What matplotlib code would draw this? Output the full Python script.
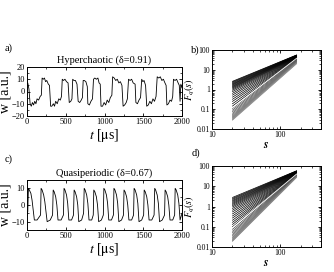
import numpy as np
import matplotlib
matplotlib.use("Agg")
import matplotlib.pyplot as plt
from matplotlib.ticker import MultipleLocator, LogLocator, NullFormatter, FixedLocator, FixedFormatter

plt.rcParams['font.family'] = ['Liberation Serif', 'DejaVu Serif']
plt.rcParams['mathtext.fontset'] = 'stix'

# ---- panel a: hyperchaotic time series (t in us, w in a.u.)
t_a = [0, 10, 25, 40, 55, 70, 85, 100, 115, 130, 150, 170, 185, 195, 210, 225, 240, 255, 275, 290,
       305, 320, 340, 355, 370, 390, 410, 430, 445, 455, 470, 490, 510, 530, 545, 565, 580, 590,
       605, 625, 645, 660, 680, 700, 715, 725, 740, 760, 778, 785, 805, 825, 845, 858, 875, 895,
       915, 930, 945, 955, 975, 995, 1015, 1035, 1055, 1075, 1095, 1105, 1125, 1145, 1165, 1185,
       1205, 1225, 1240, 1260, 1280, 1295, 1310, 1330, 1350, 1370, 1395, 1405, 1425, 1445, 1465,
       1480, 1495, 1510, 1530, 1545, 1565, 1585, 1605, 1625, 1645, 1665, 1680, 1700, 1720, 1740,
       1760, 1780, 1795, 1805, 1825, 1845, 1865, 1880, 1890, 1910, 1930, 1950, 1965, 1975, 1985, 2000]
w_a = [6, 7, 2, -10, -12, -9, -11, -8, -10, -6, -7, -4, -3, 11, 10, 11, 8, 9, 6, 5,
       -12, -12, -10, -12, -8, -10, -6, -7, -4, 10, 9, 10, 8, 7, -9, -8, -6, 10,
       9, 9, 6, -8, -9, -7, -5, 9, 9, 8, 4, -10, -11, -8, -6, 10, 11, 10,
       11, 7, 6, -12, -12, -9, -11, -7, -9, -5, -3, 12, 11, 9, 10, 7,
       8, 5, -12, -11, -9, -6, 10, 9, 10, 7, 6, -9, -10, -7, -5,
       10, 8, 9, 5, -12, -11, -8, -10, -6, -8, -4, 12, 11, 12, 9,
       10, 7, 5, -11, -10, -7, -8, -4, 10, 9, 10, 7, 5, -8, 6, 3]

# ---- panel c: quasiperiodic time series
t_c = [0, 10, 18, 30, 50, 65, 80, 95, 130, 160, 175, 182, 195, 215, 230, 245, 260, 300, 330,
       338, 350, 370, 385, 400, 440, 470, 478, 490, 510, 525, 540, 575, 600, 608, 620, 640,
       655, 668, 705, 730, 738, 750, 770, 785, 800, 835, 855, 862, 875, 895, 910, 925, 960,
       985, 992, 1005, 1025, 1040, 1055, 1090, 1115, 1122, 1135, 1155, 1170, 1185, 1220, 1245,
       1252, 1265, 1285, 1300, 1315, 1350, 1375, 1382, 1395, 1415, 1430, 1445, 1480, 1505,
       1512, 1525, 1545, 1560, 1575, 1610, 1640, 1648, 1660, 1680, 1695, 1710, 1745, 1775,
       1782, 1795, 1815, 1830, 1845, 1880, 1905, 1912, 1925, 1945, 1960, 1975, 2000]
w_c = [-6, -4, 10, 9, 7, 3, -3, -9, -9, -7, -6, 10, 9, 6, 2, -4, -10, -9, -6,
       9, 8, 5, 0, -9, -9, -6, 10, 9, 6, 1, -9, -9, -6, 9, 8, 5,
       0, -10, -9, -5, 10, 9, 6, 1, -9, -9, -6, 9, 8, 5, 0, -10, -9,
       -6, 10, 9, 6, 1, -9, -9, -6, 10, 9, 6, 1, -10, -9, -6,
       9, 8, 5, 0, -9, -9, -6, 10, 9, 6, 1, -10, -9, -6,
       9, 8, 5, 0, -9, -9, -6, 10, 9, 6, 1, -10, -9, -6,
       9, 8, 5, 0, -9, -9, -6, 10, 9, 6, 1, -9, -5]

# ---- panels b, d: fluctuation functions F_q(s), one straight segment per q
s_range = [20, 175]
b_start = [2.6, 2.4, 2.2, 2.0, 1.85, 1.7, 1.55, 1.42, 1.3, 1.18, 1.05, 0.92, 0.78, 0.64,
           0.52, 0.41, 0.32, 0.25, 0.19, 0.145,
           0.11, 0.09, 0.075, 0.063, 0.054, 0.047, 0.042, 0.038, 0.035, 0.032, 0.030, 0.028]
b_end = [56, 55, 54, 53, 52, 51, 50, 49, 48, 47, 46, 45, 44, 43, 42, 41, 40, 39, 38, 37,
         34, 32, 30, 28.5, 27, 26, 25, 24, 23, 22, 21, 20]
b_white = [0.12, 38]
d_start = [2.8, 2.5, 2.25, 2.0, 1.8, 1.6, 1.42, 1.26, 1.1, 0.95, 0.8, 0.66, 0.54, 0.43,
           0.34, 0.27, 0.21, 0.165, 0.13, 0.1,
           0.075, 0.06, 0.05, 0.042, 0.036, 0.031, 0.028, 0.025, 0.023, 0.021, 0.02, 0.019]
d_end = [58, 57, 56, 55, 54, 53, 52, 51, 50, 49, 48, 47, 46, 45, 44, 43, 42, 41, 40, 39,
         37, 36, 35, 34, 33, 32, 31, 30, 29.5, 29, 28, 27]
d_white = [0.09, 40]

W, H = 334, 272
fig = plt.figure(figsize=(W / 100, H / 100), dpi=100)


def box(l, t, r, b):
    return fig.add_axes([l / W, 1 - b / H, (r - l) / W, (b - t) / H])


def style_time(ax, ylim, title):
    ax.set_xlim(0, 2000)
    ax.set_ylim(*ylim)
    ax.xaxis.set_major_locator(MultipleLocator(500))
    ax.xaxis.set_minor_locator(MultipleLocator(250))
    ax.yaxis.set_major_locator(MultipleLocator(10))
    ax.yaxis.set_minor_locator(MultipleLocator(5))
    ax.tick_params(which='both', direction='in', top=True, right=True, labelsize=6, pad=1.5)
    ax.tick_params(which='major', length=2.5, width=0.6)
    ax.tick_params(which='minor', length=1.3, width=0.5)
    ax.set_xlabel(r'$t$ [$\mathrm{\mu}$s]', fontsize=10, labelpad=0.5)
    ax.set_ylabel('w [a.u.]', fontsize=10, labelpad=0)
    ax.set_title(title, fontsize=7.5, pad=3)
    for sp in ax.spines.values():
        sp.set_linewidth(0.7)


def style_log(ax):
    ax.set_xscale('log')
    ax.set_yscale('log')
    ax.set_xlim(10, 400)
    ax.set_ylim(0.01, 100)
    ax.yaxis.set_major_locator(FixedLocator([0.01, 0.1, 1, 10, 100]))
    ax.yaxis.set_major_formatter(FixedFormatter(['0.01', '0.1', '1', '10', '100']))
    ax.xaxis.set_major_locator(FixedLocator([10, 100]))
    ax.xaxis.set_major_formatter(FixedFormatter(['10', '100']))
    ax.xaxis.set_minor_locator(LogLocator(subs=np.arange(2, 10)))
    ax.yaxis.set_minor_locator(LogLocator(subs=np.arange(2, 10)))
    ax.xaxis.set_minor_formatter(NullFormatter())
    ax.yaxis.set_minor_formatter(NullFormatter())
    ax.tick_params(which='both', direction='in', top=True, right=True, labelsize=5.5, pad=1.5)
    ax.tick_params(which='major', length=2.5, width=0.6)
    ax.tick_params(which='minor', length=1.3, width=0.5)
    ax.set_xlabel(r'$\boldsymbol{s}$', fontsize=8.5, labelpad=0)
    ax.set_ylabel(r'$F_q(s)$', fontsize=7.5, labelpad=0)
    for sp in ax.spines.values():
        sp.set_linewidth(0.7)


def draw_fq(ax, starts, ends, white):
    n = len(starts)
    for i, (f0, f1) in enumerate(zip(starts, ends)):
        g = 0.0 if i < 20 else 0.25 + 0.3 * (i - 20) / (n - 21)
        ax.plot(s_range, [f0, f1], color=str(g), lw=0.5)
    ax.plot(s_range, white, color='white', lw=0.6)


ax_a = box(27, 67, 182, 116)
ax_a.plot(t_a, w_a, color='k', lw=0.6)
style_time(ax_a, (-20, 20), 'Hyperchaotic (δ=0.91)')

ax_c = box(27, 180, 182, 230)
ax_c.plot(t_c, w_c, color='k', lw=0.6)
style_time(ax_c, (-15, 15), 'Quasiperiodic (δ=0.67)')

ax_b = box(212, 50, 321, 129)
draw_fq(ax_b, b_start, b_end, b_white)
style_log(ax_b)

ax_d = box(212, 166, 321, 247)
draw_fq(ax_d, d_start, d_end, d_white)
style_log(ax_d)

for txt, x, y in [('a)', 5, 48), ('b)', 191, 50), ('c)', 5, 159), ('d)', 192, 153)]:
    fig.text(x / W, 1 - y / H, txt, fontsize=7.5, va='center', ha='left')

fig.savefig('out.png', dpi=100)
